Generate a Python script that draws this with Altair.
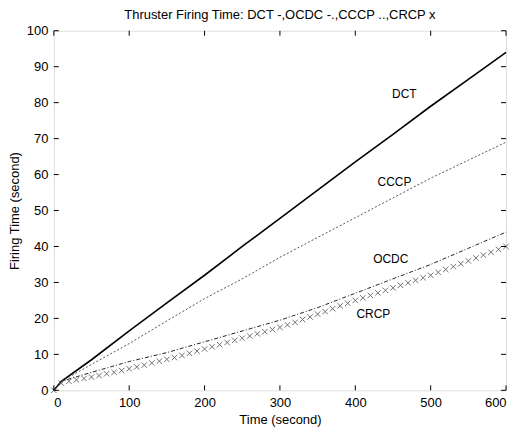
import altair as alt
import pandas as pd

# ---- data ----
line_t = [0, 10, 50, 100, 150, 200, 250, 300, 350, 400, 450, 500, 550, 600]
dct = [0, 2.5, 8.5, 16.5, 24.3, 32, 40, 47.8, 55.7, 63.5, 71.2, 79, 86.5, 94]
cccp = [0, 2.5, 7.2, 13, 19.3, 25.5, 31, 37, 42.5, 48, 53.5, 59, 64, 69]
ocdc = [0, 2.5, 5, 8, 10.5, 13.5, 16.5, 19.5, 23, 27, 31, 35, 39.5, 44]

crcp_t = list(range(0, 610, 10))
crcp = [0, 2.0, 2.5, 2.9, 3.3, 3.7, 4.1, 4.6, 5.0, 5.5,
        6.0, 6.5, 7.0, 7.6, 8.1, 8.6, 9.1, 9.7, 10.3, 10.9,
        11.5, 12.1, 12.7, 13.3, 13.9, 14.5, 15.1, 15.7, 16.3, 16.9,
        17.5, 18.2, 18.9, 19.7, 20.4, 21.2, 21.9, 22.7, 23.5, 24.2,
        25.0, 25.7, 26.4, 27.1, 27.8, 28.5, 29.2, 29.9, 30.6, 31.3,
        32.0, 32.8, 33.6, 34.4, 35.2, 36.0, 36.8, 37.6, 38.4, 39.2,
        40.0]

label_names = ["DCT", "CCCP", "OCDC", "CRCP"]
label_t = [465, 452, 447, 424]
label_v = [82.3, 58, 36.5, 21.3]

x_ticks = [0, 100, 200, 300, 400, 500, 600]
y_ticks = [0, 10, 20, 30, 40, 50, 60, 70, 80, 90, 100]

W, H = 454, 361
FONT = "Liberation Sans"
FS = 13

xs = alt.Scale(domain=[0, 600], nice=False)
ys = alt.Scale(domain=[0, 100], nice=False)

xax = alt.Axis(values=x_ticks, grid=False, ticks=False, tickSize=0, domain=False,
               labelPadding=6, labelOverlap=False, title="Time (second)", titlePadding=4,
               labelFontSize=FS, titleFontSize=FS, labelFont=FONT, titleFont=FONT,
               labelColor="black", titleColor="black", titleFontWeight="normal")
yax = alt.Axis(values=y_ticks, grid=False, ticks=False, tickSize=0, domain=False,
               labelPadding=6, labelOverlap=False, title="Firing Time (second)", titlePadding=5,
               labelFontSize=FS, titleFontSize=FS, labelFont=FONT, titleFont=FONT,
               labelColor="black", titleColor="black", titleFontWeight="normal")

df_dct = pd.DataFrame({"t": line_t, "v": dct})
df_cccp = pd.DataFrame({"t": line_t, "v": cccp})
df_ocdc = pd.DataFrame({"t": line_t, "v": ocdc})
df_crcp = pd.DataFrame({"t": crcp_t, "v": crcp})
df_lab = pd.DataFrame({"name": label_names, "t": label_t, "v": label_v})

def X(field="t"):
    return alt.X(f"{field}:Q", scale=xs, axis=xax)

def Y(field="v"):
    return alt.Y(f"{field}:Q", scale=ys, axis=yax)

l_dct = alt.Chart(df_dct).mark_line(color="black", strokeWidth=1.6).encode(x=X(), y=Y())
l_cccp = alt.Chart(df_cccp).mark_line(color="#555555", strokeWidth=1, strokeDash=[2, 2]).encode(
    x=X(), y=Y())
l_ocdc = alt.Chart(df_ocdc).mark_line(color="#222222", strokeWidth=1, strokeDash=[4, 2, 1, 2]).encode(
    x=X(), y=Y())
p_crcp = alt.Chart(df_crcp).mark_point(
    shape="M-1,-1L1,1M-1,1L1,-1", filled=False, color="#333333", size=30, strokeWidth=1
).encode(x=X(), y=Y())

labels = alt.Chart(df_lab).mark_text(font=FONT, fontSize=12, color="black").encode(
    x=X(), y=Y(), text="name:N")

df_xt = pd.DataFrame({"t": x_ticks})
df_yt = pd.DataFrame({"v": y_ticks})
tick_style = dict(color="black", strokeWidth=1)
xt_bot = alt.Chart(df_xt).mark_rule(**tick_style).encode(
    x=X(), y=alt.value(H), y2=alt.value(H - 5))
xt_top = alt.Chart(df_xt).mark_rule(**tick_style).encode(
    x=X(), y=alt.value(0), y2=alt.value(5))
yt_left = alt.Chart(df_yt).mark_rule(**tick_style).encode(
    y=Y(), x=alt.value(0), x2=alt.value(5))
yt_right = alt.Chart(df_yt).mark_rule(**tick_style).encode(
    y=Y(), x=alt.value(W), x2=alt.value(W - 5))

chart = alt.layer(
    l_dct, l_cccp, l_ocdc, p_crcp, labels, xt_bot, xt_top, yt_left, yt_right
).properties(
    width=W, height=H,
    padding={"left": 0, "top": 0, "right": 5, "bottom": 0},
    title=alt.TitleParams(
        "Thruster Firing Time: DCT -,OCDC -.,CCCP ..,CRCP x",
        font=FONT, fontSize=FS, fontWeight="normal", color="black", offset=3,
        anchor="middle"),
).configure_view(stroke="black", strokeWidth=1).configure(background="white")

chart.save("out.html", embed_options={"renderer": "svg", "actions": False})
